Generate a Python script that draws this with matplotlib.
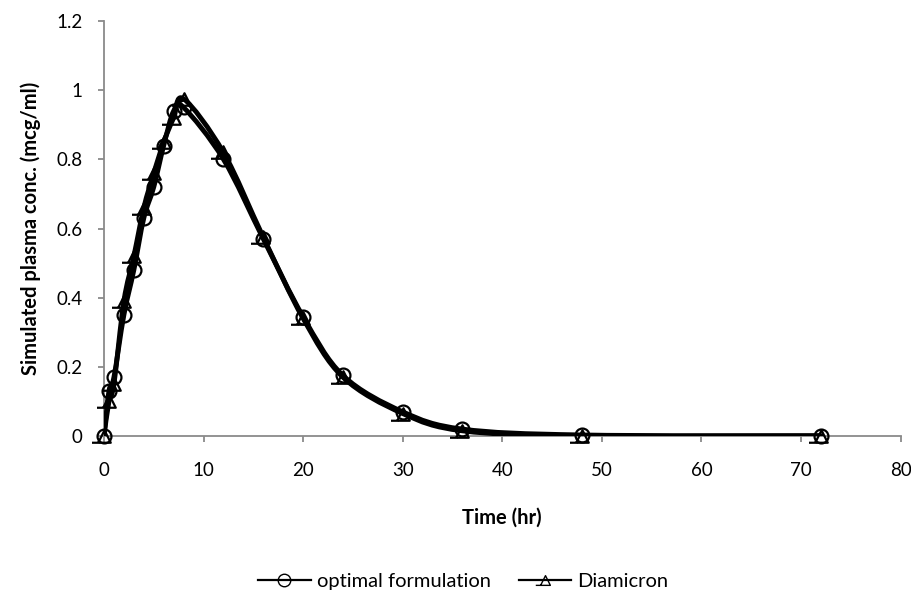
import matplotlib.pyplot as plt
from matplotlib.path import Path
from matplotlib.patches import PathPatch
from matplotlib.lines import Line2D
import numpy as np

plt.rcParams['font.family'] = ['Lato', 'DejaVu Sans']

time_hr = [0, 0.5, 1, 2, 3, 4, 5, 6, 7, 8, 12, 16, 20, 24, 30, 36, 48, 72]
optimal = [0, 0.13, 0.17, 0.35, 0.48, 0.63, 0.72, 0.84, 0.94, 0.95,
           0.80, 0.57, 0.345, 0.175, 0.07, 0.02, 0.003, 0.001]
diamicron = [0, 0.10, 0.15, 0.39, 0.52, 0.66, 0.76, 0.85, 0.92, 0.975,
             0.82, 0.575, 0.34, 0.17, 0.065, 0.015, 0.0, 0.0]

series_names = ['optimal formulation', 'Diamicron']

AXIS_GREY = '#8a8a8a'

# open triangle whose base runs on past its left corner
tri_mark = Path([(-0.5, -0.5), (0.0, 0.5), (0.5, -0.5), (-1.0, -0.5)],
                [Path.MOVETO, Path.LINETO, Path.LINETO, Path.LINETO])


def smooth_path(x, y):
    # Catmull-Rom style bezier through the points
    pts = np.column_stack([x, y]).astype(float)
    n = len(pts)
    verts = [pts[0]]
    codes = [Path.MOVETO]
    for i in range(n - 1):
        p0 = pts[max(i - 1, 0)]
        p1 = pts[i]
        p2 = pts[i + 1]
        p3 = pts[min(i + 2, n - 1)]
        c1 = p1 + (p2 - p0) / 6.0
        c2 = p2 - (p3 - p1) / 6.0
        verts += [c1, c2, p2]
        codes += [Path.CURVE4] * 3
    return Path(verts, codes)


fig = plt.figure(figsize=(9.12, 5.92), dpi=100)
ax = fig.add_axes([0.114, 0.2635, 0.8735, 0.701])

for ys in (optimal, diamicron):
    ax.add_patch(PathPatch(smooth_path(time_hr, ys), fill=False,
                           edgecolor='black', lw=3.5, capstyle='round',
                           joinstyle='round', zorder=3))

ax.plot(time_hr, optimal, ls='none', marker='o', ms=10, mfc='none',
        mec='black', mew=1.6, zorder=4, clip_on=False)
ax.plot(time_hr, diamicron, ls='none', marker=tri_mark, ms=18,
        mfc='none', mec='black', mew=1.6, zorder=4, clip_on=False)

ax.set_xlim(0, 80)
ax.set_ylim(0, 1.2)
ax.set_xticks(np.arange(0, 81, 10))
ax.set_yticks(np.arange(0, 1.21, 0.2))
ax.set_yticklabels(['0', '0.2', '0.4', '0.6', '0.8', '1', '1.2'])

for side in ('top', 'right'):
    ax.spines[side].set_visible(False)
for side in ('left', 'bottom'):
    ax.spines[side].set_color(AXIS_GREY)
    ax.spines[side].set_linewidth(1.3)
ax.tick_params(axis='both', direction='out', length=4.5, width=1.3,
               color=AXIS_GREY, labelsize=13.5)
ax.tick_params(axis='y', pad=11)
ax.tick_params(axis='x', pad=14)

ax.set_xlabel('Time (hr)', fontsize=14.5, fontweight='bold', va='top')
ax.xaxis.set_label_coords(0.5, -0.172)
ax.set_ylabel('Simulated plasma conc. (mcg/ml)', fontsize=14.5,
              fontweight='bold')
ax.yaxis.set_label_coords(-0.079, 0.5)

handles = [
    Line2D([], [], color='black', lw=1.6, marker='o', ms=9, mfc='none',
           mec='black'),
    Line2D([], [], color='black', lw=1.6, marker=tri_mark, ms=14,
           mfc='none', mec='black'),
]
fig.legend(handles, series_names, loc='center', bbox_to_anchor=(0.508, 0.017),
           ncol=2, frameon=False, fontsize=14.5, handlelength=2.6,
           columnspacing=1.4, handletextpad=0.3, borderpad=0)

fig.savefig('out.png', dpi=100)
